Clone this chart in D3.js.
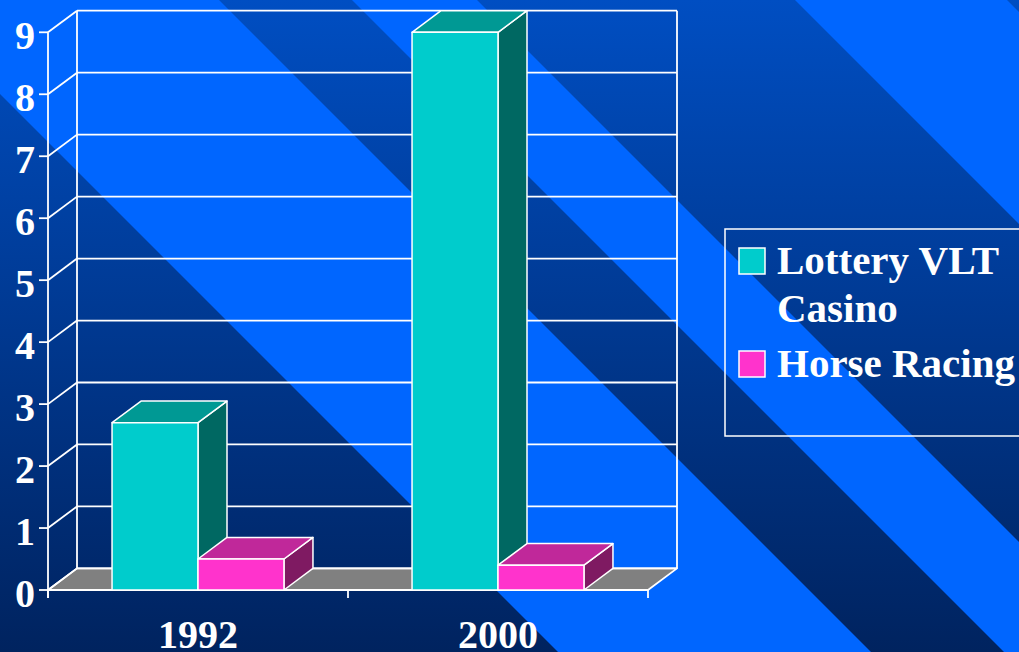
<!DOCTYPE html>
<html>
<head>
<meta charset="utf-8">
<script src="https://cdn.jsdelivr.net/npm/d3@7/dist/d3.min.js"></script>
<style>
  html, body { margin: 0; padding: 0; background: #003a90; }
  svg { display: block; }
  text { font-family: "Liberation Serif", "Times New Roman", serif; font-weight: bold; fill: #fff; }
</style>
</head>
<body>
<svg id="chart" width="1019" height="652"></svg>
<script>
// data
const years = ['1992', '2000'];
const series = ['Lottery VLT Casino', 'Horse Racing'];
const lottery = [2.7, 9.0];
const horse = [0.5, 0.4];
const yTicks = [0, 1, 2, 3, 4, 5, 6, 7, 8, 9];

const W = 1019, H = 652;
const svg = d3.select('#chart');

// depth of the 3d box
const dx = 29, dy = -21.6;

const x = d3.scaleBand().domain(years).range([48, 648]);
const xs = d3.scaleBand().domain(series).range([0, x.bandwidth()]).paddingOuter(0.745);
const y = d3.scaleLinear().domain([0, 9]).range([590, 32.3]);

const colors = {
	'Lottery VLT Casino': {front: '#00cccc', top: '#009994', side: '#006862'},
	'Horse Racing': {front: '#ff33cc', top: '#c0289a', side: '#7f1a62'}
};

// background
const defs = svg.append('defs');
const grad = defs.append('linearGradient').attr('id', 'bg').attr('x1', 0).attr('y1', 0).attr('x2', 0).attr('y2', 1);
grad.append('stop').attr('offset', 0).attr('stop-color', '#004ec2');
grad.append('stop').attr('offset', 1).attr('stop-color', '#00235f');
svg.append('rect').attr('width', W).attr('height', H).attr('fill', 'url(#bg)');

// diagonal stripes, band of (y - x)
const stripes = [[-219, 94], [-477, -352], [-1007, -795]];
svg.append('g').selectAll('polygon')
	.data(stripes)
	.enter()
	.append('polygon')
	.attr('points', function(d) {
		return [[-800, -800 + d[0]], [1800, 1800 + d[0]], [1800, 1800 + d[1]], [-800, -800 + d[1]]].join(' ');
	})
	.attr('fill', '#0066ff');

const x0 = x.range()[0], x1 = x.range()[1];
const line = 'white';
const g = svg.append('g');

// floor
g.append('polygon')
	.attr('points', [[x0, y(0)], [x1, y(0)], [x1 + dx, y(0) + dy], [x0 + dx, y(0) + dy]].join(' '))
	.attr('fill', '#808080')
	.attr('stroke', line)
	.attr('stroke-width', 1.8)
	.attr('stroke-linejoin', 'round');

// grid on the walls
const grid = g.append('g').attr('stroke', line).attr('stroke-width', 1.8).attr('fill', 'none');
grid.selectAll('.diag')
	.data(yTicks)
	.enter()
	.append('line')
	.attr('x1', x0).attr('y1', function(d) {return y(d)})
	.attr('x2', x0 + dx).attr('y2', function(d) {return y(d) + dy});
grid.selectAll('.hor')
	.data(yTicks)
	.enter()
	.append('line')
	.attr('x1', x0 + dx).attr('y1', function(d) {return y(d) + dy})
	.attr('x2', x1 + dx).attr('y2', function(d) {return y(d) + dy});
grid.append('line').attr('x1', x0 + dx).attr('x2', x0 + dx).attr('y1', y(9) + dy).attr('y2', y(0) + dy);
grid.append('line').attr('x1', x1 + dx).attr('x2', x1 + dx).attr('y1', y(9) + dy).attr('y2', y(0) + dy);

// axes
const ax = g.append('g').attr('stroke', line).attr('stroke-width', 1.8);
ax.append('line').attr('x1', x0).attr('x2', x0).attr('y1', y(9)).attr('y2', y(0) + 8);
ax.append('line').attr('x1', x0).attr('x2', x1).attr('y1', y(0)).attr('y2', y(0));
ax.selectAll('.yt')
	.data(yTicks)
	.enter()
	.append('line')
	.attr('x1', x0 - 9).attr('x2', x0)
	.attr('y1', function(d) {return y(d)}).attr('y2', function(d) {return y(d)});
ax.selectAll('.xt')
	.data(years.map(function(d) {return x(d)}).concat([x1]))
	.enter()
	.append('line')
	.attr('x1', function(d) {return d}).attr('x2', function(d) {return d})
	.attr('y1', y(0)).attr('y2', y(0) + 8);

// bars
const barData = [];
years.forEach(function(yr, i) {
	barData.push({year: yr, key: series[0], value: lottery[i]});
	barData.push({year: yr, key: series[1], value: horse[i]});
});

const bars = g.selectAll('.bar')
	.data(barData)
	.enter()
	.append('g')
	.attr('class', 'bar')
	.attr('stroke', line)
	.attr('stroke-width', 1.5)
	.attr('stroke-linejoin', 'round');

bars.each(function(d) {
	const b = d3.select(this);
	const bx = x(d.year) + xs(d.key);
	const bw = xs.bandwidth();
	const yv = y(d.value), y0 = y(0);
	b.append('polygon')
		.attr('points', [[bx + bw, yv], [bx + bw + dx, yv + dy], [bx + bw + dx, y0 + dy], [bx + bw, y0]].join(' '))
		.attr('fill', colors[d.key].side);
	b.append('polygon')
		.attr('points', [[bx, yv], [bx + dx, yv + dy], [bx + bw + dx, yv + dy], [bx + bw, yv]].join(' '))
		.attr('fill', colors[d.key].top);
	b.append('rect')
		.attr('x', bx).attr('y', yv)
		.attr('width', bw).attr('height', y0 - yv)
		.attr('fill', colors[d.key].front);
});

// tick labels
svg.append('g').selectAll('text')
	.data(yTicks)
	.enter()
	.append('text')
	.attr('x', 35)
	.attr('y', function(d) {return y(d) + 17})
	.attr('text-anchor', 'end')
	.attr('font-size', '40px')
	.text(function(d) {return d});

// year labels sit low, partly cut by the bottom edge as in the slide
svg.append('g').selectAll('text')
	.data(years)
	.enter()
	.append('text')
	.attr('x', function(d) {return x(d) + x.bandwidth() / 2})
	.attr('y', 648)
	.attr('text-anchor', 'middle')
	.attr('font-size', '40px')
	.text(function(d) {return d});

// legend
const leg = svg.append('g');
leg.append('rect')
	.attr('x', 725).attr('y', 229)
	.attr('width', 320).attr('height', 207)
	.attr('fill', 'none')
	.attr('stroke', line)
	.attr('stroke-width', 1.5);

const legItems = [
	{key: series[0], lines: ['Lottery VLT', 'Casino'], y: 248},
	{key: series[1], lines: ['Horse Racing'], y: 351}
];
legItems.forEach(function(it) {
	leg.append('rect')
		.attr('x', 739).attr('y', it.y)
		.attr('width', 26).attr('height', 26)
		.attr('fill', colors[it.key].front)
		.attr('stroke', line)
		.attr('stroke-width', 1.5);
	it.lines.forEach(function(t, j) {
		leg.append('text')
			.attr('x', 777)
			.attr('y', it.y + 26 + j * 47.5)
			.attr('font-size', '41px')
			.text(t);
	});
});
</script>
</body>
</html>
